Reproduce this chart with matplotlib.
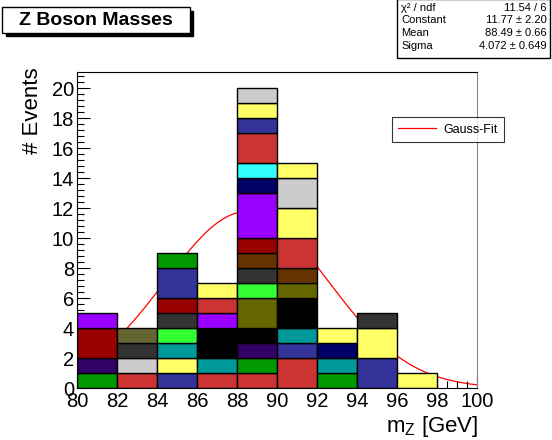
import numpy as np
import matplotlib.pyplot as plt
from matplotlib.patches import Rectangle
from matplotlib.ticker import MultipleLocator

plt.rcParams['font.family'] = ['Liberation Sans', 'DejaVu Sans']

# bins of the histogram
bin_lo = [80, 82, 84, 86, 88, 90, 92, 94, 96]
bin_width = 2

# stacked blocks per bin (bottom to top)
block_heights = [
    [1, 1, 2, 1],
    [1, 1, 1, 1],
    [1, 1, 1, 1, 1, 1, 2, 1],
    [1, 1, 2, 1, 1, 1],
    [1, 1, 1, 1, 2, 1, 1, 1, 1, 3, 1, 1, 2, 1, 1, 1],
    [2, 1, 1, 2, 1, 1, 2, 2, 2, 1],
    [1, 1, 1, 1],
    [2, 2, 1],
    [1],
]
block_colors = [
    ['#009900', '#330066', '#990000', '#9900ff'],
    ['#cc3333', '#cccccc', '#333333', '#666633'],
    ['#333399', '#ffff66', '#009999', '#33ff33', '#333333', '#990000', '#333399', '#009900'],
    ['#cc3333', '#009999', '#000000', '#9900ff', '#cc3333', '#ffff66'],
    ['#cc3333', '#009900', '#330066', '#000000', '#666600', '#33ff33', '#333333', '#663300',
     '#990000', '#9900ff', '#000066', '#33ffff', '#cc3333', '#333399', '#ffff66', '#cccccc'],
    ['#cc3333', '#333399', '#009999', '#000000', '#666600', '#663300', '#cc3333', '#ffff66',
     '#cccccc', '#ffff66'],
    ['#009900', '#009999', '#000066', '#ffff66'],
    ['#333399', '#ffff66', '#333333'],
    ['#ffff66'],
]

# gaussian fit results
fit_const = 11.77
fit_mean = 88.49
fit_sigma = 4.072
stats_names = ['\u03c7\u00b2 / ndf', 'Constant', 'Mean', 'Sigma']
stats_values = ['11.54 / 6', '11.77 \u00b1 2.20', '88.49 \u00b1 0.66', '4.072 \u00b1 0.649']

fig = plt.figure(figsize=(5.52, 4.40), dpi=100)
ax = fig.add_axes([0.1395, 0.118, 0.7245, 0.718])

xs = np.linspace(80, 100, 400)
ax.plot(xs, fit_const * np.exp(-0.5 * ((xs - fit_mean) / fit_sigma) ** 2),
        color='red', lw=0.9, zorder=1, label='Gauss-Fit')

for lo, heights, colors in zip(bin_lo, block_heights, block_colors):
    bottom = 0
    for h, c in zip(heights, colors):
        ax.add_patch(Rectangle((lo, bottom), bin_width, h, facecolor=c,
                               edgecolor='black', lw=1.0, zorder=2))
        bottom += h

ax.set_xlim(80, 100)
ax.set_ylim(0, 21.07)
ax.xaxis.set_major_locator(MultipleLocator(2))
ax.xaxis.set_minor_locator(MultipleLocator(0.5))
ax.yaxis.set_major_locator(MultipleLocator(2))
ax.yaxis.set_minor_locator(MultipleLocator(0.4))
ax.tick_params(which='both', direction='in', labelsize=14.5, width=0.8)
ax.tick_params(which='major', length=9)
ax.tick_params(which='minor', length=5)
ax.tick_params(axis='x', pad=3)
ax.tick_params(axis='y', pad=2)
ax.spines['right'].set_color('#888888')

fig.text(0.058, 0.848, '# Events', rotation=90, ha='center', va='top', fontsize=16)
fig.text(0.866, 0.003, 'm$_\\mathregular{Z}$ [GeV]', ha='right', va='bottom', fontsize=16)

leg = ax.legend(loc='upper left', bbox_to_anchor=(0.7875, 0.857), fontsize=9,
                frameon=True, fancybox=False, edgecolor='black', handlelength=3,
                borderpad=0.5, handletextpad=0.6, borderaxespad=0)
leg.get_frame().set_linewidth(0.8)

# title box with shadow
fig.patches.append(Rectangle((0.010, 0.918), 0.34, 0.058, transform=fig.transFigure,
                             facecolor='black', edgecolor='black'))
fig.patches.append(Rectangle((0.004, 0.926), 0.34, 0.058, transform=fig.transFigure,
                             facecolor='white', edgecolor='black', lw=1))
fig.text(0.174, 0.954, 'Z Boson Masses', ha='center', va='center', fontsize=14,
         fontweight='bold')

# stats box
fig.patches.append(Rectangle((0.719, 0.868), 0.277, 0.135, transform=fig.transFigure,
                             facecolor='white', edgecolor='black', lw=1))
for i, (n, v) in enumerate(zip(stats_names, stats_values)):
    yy = 0.982 - i * 0.0285
    fig.text(0.727, yy, n, ha='left', va='center', fontsize=8)
    fig.text(0.99, yy, v, ha='right', va='center', fontsize=8)

fig.savefig('out.png', dpi=100)
